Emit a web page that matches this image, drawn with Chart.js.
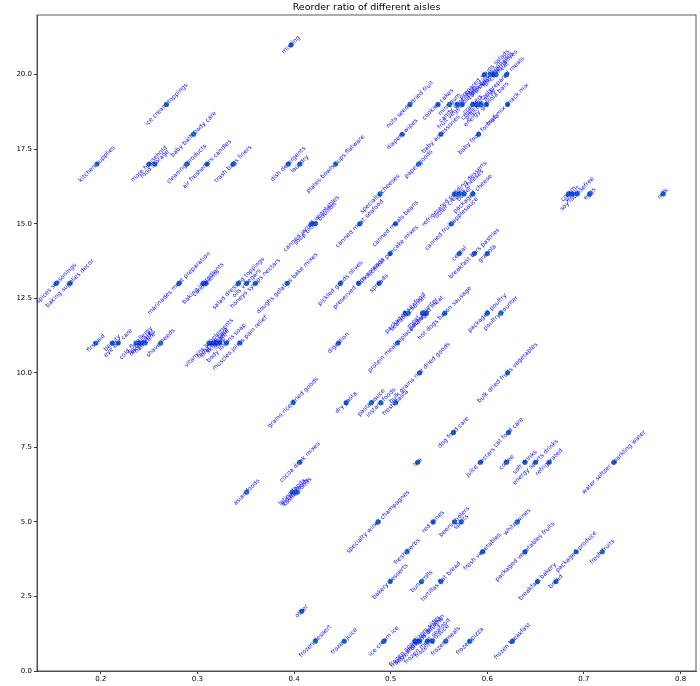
<!DOCTYPE html>
<html><head><meta charset="utf-8">
<script src="https://cdn.jsdelivr.net/npm/chart.js@4.4.1/dist/chart.umd.min.js"></script>
<style>html,body{margin:0;padding:0;background:#fff}</style>
</head><body>
<canvas id="c" width="700" height="686"></canvas>
<script>
const aisles = [
"missing",
"prepared soups salads","fresh dips tapenades","tofu meat alternatives","lunch meat","prepared meals",
"ice cream toppings","nuts seeds dried fruit","cookies cakes","mint gum","candy chocolate","fruit vegetable snacks","crackers","chips pretzels","popcorn jerky","energy granola bars","trail mix snack mix",
"baby bath body care","diapers wipes","baby accessories","baby food formula",
"kitchen supplies","more household","food storage","cleaning products","air fresheners candles","trash bags liners","dish detergents","laundry","plates bowls cups flatware","paper goods",
"specialty cheeses","refrigerated pudding desserts","other creams cheeses","butter","packaged cheese","cream","yogurt","soy lactosefree","eggs","milk",
"canned jarred vegetables","soup broth bouillon","canned meat seafood","canned meals beans","canned fruit applesauce",
"hot cereal pancake mixes","cereal","breakfast bars pastries","granola",
"spices seasonings","baking supplies decor","marinades meat preparation","baking ingredients","condiments","salad dressing toppings","oils vinegars","honeys syrups nectars","doughs gelatins bake mixes","pickled goods olives","preserved dips spreads","spreads",
"packaged seafood","seafood counter","meat counter","packaged meat","hot dogs bacon sausage","packaged poultry","poultry counter",
"first aid","beauty","eye ear care","cold flu allergy","facial care","deodorants","hair care","shave needs","vitamins supplements","feminine care","oral hygiene","skin care","soap","body lotions soap","muscles joints pain relief","digestion","protein meal replacements",
"bulk grains rice dried goods","bulk dried fruits vegetables",
"grains rice dried goods","dry pasta","pasta sauce","instant foods","fresh pasta",
"dog food care","cat food care",
"cocoa drink mixes","tea","juice nectars","coffee","soft drinks","energy sports drinks","refrigerated","water seltzer sparkling water",
"asian foods","latino foods","indian foods","kosher foods",
"specialty wines champagnes","red wines","beers coolers","spirits","white wines",
"fresh herbs","fresh vegetables","packaged vegetables fruits","packaged produce","fresh fruits",
"bakery desserts","buns rolls","tortillas flat bread","breakfast bakery","bread",
"other",
"frozen dessert","frozen juice","ice cream ice","frozen appetizers sides","frozen vegan vegetarian","frozen breads doughs","frozen meat seafood","frozen produce","frozen meals","frozen pizza","frozen breakfast"
];
const reorderRatio = [
0.397,
0.597,0.603,0.606,0.609,0.620,
0.268,0.520,0.549,0.561,0.569,0.574,0.585,0.589,0.593,0.599,0.621,
0.296,0.512,0.552,0.591,
0.196,0.250,0.256,0.289,0.310,0.337,0.394,0.406,0.443,0.529,
0.489,0.566,0.571,0.576,0.585,0.684,0.688,0.693,0.706,0.782,
0.418,0.422,0.468,0.505,0.563,
0.4995,0.571,0.5865,0.600,
0.154,0.168,0.281,0.306,0.309,0.3425,0.351,0.360,0.393,0.448,0.467,0.488,
0.515,0.518,0.533,0.537,0.556,0.600,0.614,
0.195,0.212,0.218,0.2365,0.2407,0.243,0.2459,0.262,0.312,0.316,0.318,0.320,0.323,0.330,0.344,0.446,0.507,
0.530,0.621,
0.399,0.454,0.480,0.490,0.505,
0.565,0.622,
0.406,0.528,0.593,0.620,0.639,0.650,0.664,0.731,
0.351,0.398,0.401,0.4035,
0.487,0.544,0.566,0.573,0.631,
0.517,0.595,0.639,0.692,0.719,
0.4995,0.532,0.552,0.652,0.671,
0.408,
0.422,0.452,0.493,0.525,0.528,0.530,0.538,0.543,0.557,0.582,0.626
];
const departmentId = [
21,
20,20,20,20,20,
19,19,19,19,19,19,19,19,19,19,19,
18,18,18,18,
17,17,17,17,17,17,17,17,17,17,
16,16,16,16,16,16,16,16,16,16,
15,15,15,15,15,
14,14,14,14,
13,13,13,13,13,13,13,13,13,13,13,13,
12,12,12,12,12,12,12,
11,11,11,11,11,11,11,11,11,11,11,11,11,11,11,11,11,
10,10,
9,9,9,9,9,
8,8,
7,7,7,7,7,7,7,7,
6,6,6,6,
5,5,5,5,5,
4,4,4,4,4,
3,3,3,3,3,
2,
1,1,1,1,1,1,1,1,1,1,1
];
const xTicks = [0.2,0.3,0.4,0.5,0.6,0.7,0.8];
const yTicks = [0,2.5,5,7.5,10,12.5,15,17.5,20];
const titleText = "Reorder ratio of different aisles";

const points = reorderRatio.map((v,i)=>({x:v, y:departmentId[i]}));

const labelPlugin = {
  id:'aisleLabels',
  afterDatasetsDraw(chart){
    const meta = chart.getDatasetMeta(0);
    const ctx = chart.ctx;
    ctx.save();
    ctx.font = '6px "DejaVu Sans"';
    ctx.fillStyle = 'blue';
    ctx.textAlign = 'center';
    ctx.textBaseline = 'middle';
    meta.data.forEach((pt,i)=>{
      ctx.save();
      ctx.translate(pt.x, pt.y);
      ctx.rotate(-Math.PI/4);
      ctx.fillText(aisles[i], 0, 0);
      ctx.restore();
    });
    ctx.restore();
  }
};
const framePlugin = {
  id:'frame',
  afterDraw(chart){
    const a = chart.chartArea, ctx = chart.ctx;
    ctx.save();
    ctx.strokeStyle = '#333';
    ctx.lineWidth = 0.8;
    ctx.strokeRect(a.left, a.top, a.right-a.left, a.bottom-a.top);
    ctx.fillStyle = '#000';
    ctx.font = '9.5px "DejaVu Sans"';
    ctx.textAlign = 'center';
    ctx.textBaseline = 'bottom';
    ctx.fillText(titleText, (a.left+a.right)/2, a.top - 3);
    ctx.restore();
  }
};

new Chart(document.getElementById('c'), {
  type:'scatter',
  data:{datasets:[{data:points, backgroundColor:'#1f77b4', borderWidth:0, pointRadius:2.6}]},
  options:{
    responsive:false, animation:false, devicePixelRatio:1,
    layout:{padding:{left:0,right:4,top:15,bottom:0}},
    plugins:{ legend:{display:false}, tooltip:{enabled:false}, title:{display:false} },
    scales:{
      x:{type:'linear', min:0.134, max:0.816,
        afterBuildTicks:(s)=>{s.ticks = xTicks.map(v=>({value:v}));},
        afterFit:(s)=>{s.height = 15;},
        grid:{drawOnChartArea:false, drawTicks:true, tickLength:3, color:'#333'},
        border:{color:'#333', width:0.8},
        ticks:{color:'#000', font:{family:'DejaVu Sans', size:7}, padding:1, callback:(v)=>v.toFixed(1), maxRotation:0, autoSkip:false}
      },
      y:{type:'linear', min:0, max:22,
        afterBuildTicks:(s)=>{s.ticks = yTicks.map(v=>({value:v}));},
        afterFit:(s)=>{s.width = 37;},
        grid:{drawOnChartArea:false, drawTicks:true, tickLength:3, color:'#333'},
        border:{color:'#333', width:0.8},
        ticks:{color:'#000', font:{family:'DejaVu Sans', size:7}, padding:2, callback:(v)=>v.toFixed(1), autoSkip:false}
      }
    }
  },
  plugins:[labelPlugin, framePlugin]
});
</script>
</body></html>
